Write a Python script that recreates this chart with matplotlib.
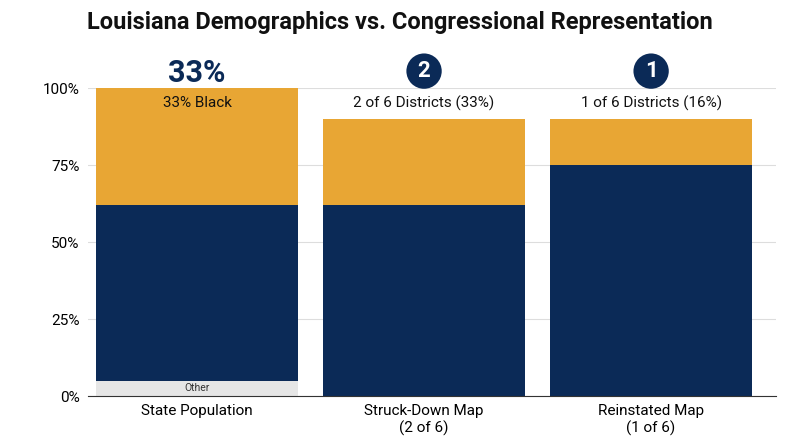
import matplotlib.pyplot as plt

plt.rcParams['font.family'] = ['Roboto', 'DejaVu Sans']

categories = ["State Population", "Struck-Down Map\n(2 of 6)", "Reinstated Map\n(1 of 6)"]
other_vals = [5, 0, 0]
navy_vals = [57, 62, 75]
gold_vals = [38, 28, 15]
inside_labels = ["33% Black", "2 of 6 Districts (33%)", "1 of 6 Districts (16%)"]
top_labels = ["33%", "2", "1"]

NAVY = "#0b2a57"
GOLD = "#e8a634"
GRAY = "#e6e6e6"

fig = plt.figure(figsize=(8, 4.47), dpi=100)
ax = fig.add_axes([0.11, 0.114, 0.86, 0.689])

x = range(len(categories))
w = 0.89
ax.bar(x, other_vals, width=w, color=GRAY, zorder=2)
ax.bar(x, navy_vals, width=w, bottom=other_vals, color=NAVY, zorder=2)
bottoms = [o + n for o, n in zip(other_vals, navy_vals)]
ax.bar(x, gold_vals, width=w, bottom=bottoms, color=GOLD, zorder=2)

ax.text(0, 2.5, "Other", ha="center", va="center", fontsize=7.5, color="#333333", zorder=3)

for i, lab in enumerate(inside_labels):
    ax.text(i, 95, lab, ha="center", va="center", fontsize=11, color="#111111", zorder=3)

ax.text(0, 105, top_labels[0], ha="center", va="center", fontsize=22, fontweight="bold",
        color=NAVY, clip_on=False)
for i in (1, 2):
    ax.text(i, 105.5, top_labels[i], ha="center", va="center", fontsize=16, fontweight="bold",
            color="white", clip_on=False,
            bbox=dict(boxstyle="circle,pad=0.3", fc=NAVY, ec="none"))

ax.set_xlim(-0.48, 2.55)
ax.set_ylim(0, 100)
ax.set_yticks([0, 25, 50, 75, 100])
ax.set_yticklabels(["0%", "25%", "50%", "75%", "100%"], fontsize=11)
ax.set_xticks(list(x))
ax.set_xticklabels(categories, fontsize=11)
ax.tick_params(length=0, pad=6)
ax.grid(axis="y", color="#dddddd", linewidth=0.8, zorder=0)
for s in ("top", "right", "left"):
    ax.spines[s].set_visible(False)
ax.spines["bottom"].set_color("#333333")

fig.text(0.5, 0.95, "Louisiana Demographics vs. Congressional Representation",
         ha="center", va="center", fontsize=17, fontweight="bold", color="#111111")

fig.savefig("out.png", dpi=100)
